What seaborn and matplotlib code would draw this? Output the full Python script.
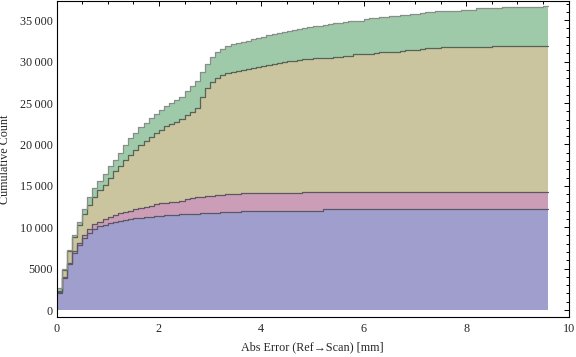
import numpy as np
import pandas as pd
import matplotlib
matplotlib.use("Agg")
import matplotlib.pyplot as plt
import seaborn as sns
from matplotlib.ticker import MultipleLocator, FuncFormatter

# ---- data: cumulative counts (stacked tops) per 0.1 mm bin, 0 .. 9.6 mm ----
bin_width = 0.1
layer_names = ["Layer 1", "Layer 2", "Layer 3", "Layer 4"]

layer1_top = [2000, 3830, 5540, 6840, 7850, 8650, 9300, 9750, 10100, 10300,
              10470, 10590, 10750, 10870, 10950, 11070, 11150, 11190, 11270, 11350,
              11390, 11430, 11470, 11530, 11560, 11590, 11600, 11620, 11670, 11680,
              11700, 11750, 11780, 11800, 11850, 11880, 12000, 12000, 12000, 12000,
              12000, 12000, 12000, 12000, 12000, 12000, 12000, 12000, 12000, 12000,
              12000, 12000, 12160, 12160, 12160, 12160, 12160, 12160, 12160, 12160,
              12160, 12160, 12160, 12160, 12160, 12160, 12160, 12160, 12160, 12160,
              12160, 12160, 12160, 12160, 12160, 12160, 12160, 12160, 12160, 12160,
              12160, 12160, 12160, 12160, 12160, 12160, 12160, 12160, 12160, 12160,
              12160, 12160, 12160, 12160, 12160, 12160]

layer2_top = [2150, 3950, 5700, 7100, 8150, 9080, 9820, 10350, 10660, 10970,
              11250, 11450, 11670, 11870, 11990, 12160, 12280, 12480, 12600, 12760,
              12880, 12960, 13000, 13100, 13200, 13370, 13490, 13610, 13690, 13770,
              13810, 13850, 13930, 13970, 14010, 14010, 14090, 14090, 14090, 14090,
              14090, 14170, 14170, 14170, 14170, 14170, 14170, 14170, 14290, 14290,
              14290, 14290, 14290, 14290, 14290, 14290, 14290, 14290, 14290, 14290,
              14290, 14290, 14290, 14290, 14290, 14290, 14290, 14290, 14290, 14290,
              14290, 14290, 14290, 14290, 14290, 14290, 14290, 14290, 14290, 14290,
              14290, 14290, 14290, 14290, 14290, 14290, 14290, 14290, 14290, 14290,
              14290, 14290, 14290, 14290, 14290, 14290]

layer3_top = [2300, 4880, 7080, 8800, 10250, 11600, 12700, 13600, 14450, 15100,
              15900, 16750, 17400, 18120, 18760, 19320, 19950, 20400, 20900, 21400,
              21800, 22280, 22500, 22700, 23100, 23500, 23900, 24400, 25770, 26770,
              27480, 28000, 28400, 28580, 28720, 28860, 28990, 29110, 29270, 29380,
              29500, 29630, 29750, 29870, 29950, 30030, 30110, 30190, 30280, 30310,
              30400, 30430, 30450, 30450, 30590, 30590, 30710, 30710, 30880, 30880,
              30960, 30960, 31040, 31120, 31120, 31200, 31200, 31280, 31370, 31440,
              31440, 31520, 31600, 31600, 31680, 31720, 31720, 31720, 31720, 31720,
              31720, 31720, 31720, 31720, 31720, 31840, 31840, 31840, 31840, 31840,
              31840, 31840, 31840, 31840, 31840, 31840]

layer4_top = [2600, 4980, 7250, 9000, 10620, 12160, 13650, 14690, 15600, 16450,
              17400, 18100, 19000, 19870, 20730, 21430, 22100, 22640, 23150, 23650,
              24150, 24640, 25050, 25400, 25770, 26430, 27050, 27620, 28700, 29690,
              30600, 31130, 31560, 31840, 32090, 32210, 32370, 32520, 32730, 32850,
              33010, 33180, 33300, 33420, 33540, 33660, 33780, 33900, 34060, 34140,
              34260, 34340, 34420, 34500, 34630, 34630, 34750, 34870, 34940, 34940,
              35110, 35230, 35230, 35350, 35350, 35470, 35470, 35590, 35670, 35790,
              35790, 35870, 36030, 36030, 36110, 36110, 36150, 36150, 36150, 36270,
              36270, 36270, 36430, 36430, 36430, 36430, 36430, 36550, 36550, 36550,
              36550, 36550, 36550, 36550, 36550, 36670]

x_ticks = [0, 2, 4, 6, 8, 10]
y_ticks = [0, 5000, 10000, 15000, 20000, 25000, 30000, 35000]
x_label = "Abs Error (Ref\u2192Scan) [mm]"
y_label = "Cumulative Count"

fill_colors = ["#A09ECC", "#CB9DB7", "#CAC49F", "#9ECAAA"]
edge_colors = ["#585868", "#5E5660", "#566456", "#8A8E8A"]

# ---- style ----
sns.set_style("white")
plt.rcParams["font.family"] = ["Liberation Serif", "DejaVu Serif"]
plt.rcParams["font.size"] = 8.7

fig = plt.figure(figsize=(5.76, 3.57), dpi=100)
ax = fig.add_axes([56.5 / 576, 40 / 357, 512 / 576, 316 / 357])

tops = [layer1_top, layer2_top, layer3_top, layer4_top]
n = len(layer1_top)
edges = np.arange(n + 1) * bin_width

rows = []
prev = np.zeros(n + 1)
for name, top, fc in zip(layer_names, tops, fill_colors):
    y = np.append(np.asarray(top, float), top[-1])
    ax.fill_between(edges, prev, y, step="post", color=fc, lw=0, zorder=1)
    for xi, yi in zip(edges, y):
        rows.append({"x": xi, "top": yi, "layer": name})
    prev = y

df = pd.DataFrame(rows)
sns.lineplot(data=df, x="x", y="top", hue="layer", palette=dict(zip(layer_names, edge_colors)),
             drawstyle="steps-post", estimator=None, lw=0.9, legend=False, ax=ax, zorder=2)

ax.set_xlim(0, 10)
ax.set_ylim(-845, 37320)
ax.set_xticks(x_ticks)
ax.set_yticks(y_ticks)
ax.xaxis.set_minor_locator(MultipleLocator(0.5))
ax.yaxis.set_minor_locator(MultipleLocator(1000))


def yfmt(v, pos):
    v = int(round(v))
    if v >= 10000:
        return f"{v:,}".replace(",", "\u2009")
    return str(v)


ax.yaxis.set_major_formatter(FuncFormatter(yfmt))
ax.xaxis.set_major_formatter(FuncFormatter(lambda v, p: f"{int(v)}"))

ax.tick_params(which="both", direction="in", top=True, right=True, width=0.7, color="black")
ax.tick_params(which="major", length=3.6)
ax.tick_params(which="minor", length=2.0)
ax.tick_params(axis="y", which="major", pad=2.7, labelsize=8.7)
ax.tick_params(axis="x", which="major", pad=4.0, labelsize=8.7)

for s in ax.spines.values():
    s.set_visible(True)
    s.set_linewidth(0.8)
    s.set_color("black")

ax.set_xlabel(x_label, fontsize=8.7, labelpad=5)
ax.set_ylabel(y_label, fontsize=8.7, labelpad=6)

fig.savefig("out.png", dpi=100)
